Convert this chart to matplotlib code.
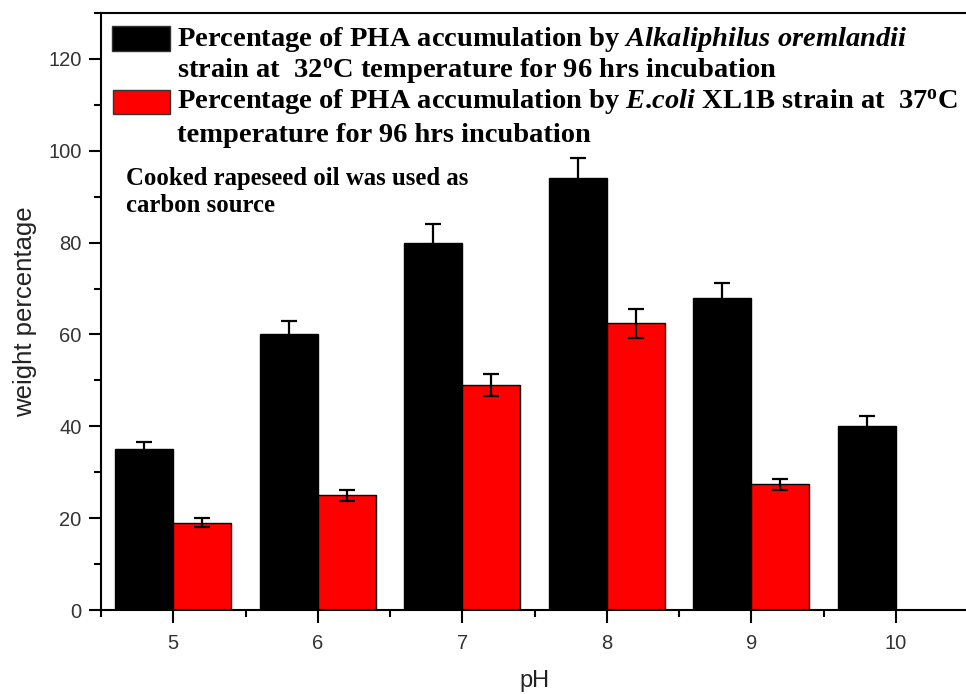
import numpy as np
import matplotlib
matplotlib.use("Agg")
import matplotlib.pyplot as plt
from matplotlib.patches import Rectangle
from matplotlib.ticker import MultipleLocator

# data
ph = [5, 6, 7, 8, 9, 10]
alkali = [35, 60, 80, 94, 68, 40]
alkali_err = [1.6, 3.0, 4.0, 4.5, 3.3, 2.2]
ecoli = [19, 25, 49, 62.4, 27.4, np.nan]
ecoli_err = [1.0, 1.2, 2.4, 3.2, 1.2, np.nan]

legend_lines = [
    r"Percentage of PHA accumulation by $\mathit{Alkaliphilus\ oremlandii}$",
    r"strain at  32$^{\mathrm{o}}$C temperature for 96 hrs incubation",
    r"Percentage of PHA accumulation by $\mathit{E}$.$\mathit{coli}$ XL1B strain at  37$^{\mathrm{o}}$C",
    "temperature for 96 hrs incubation",
]
note_lines = ["Cooked rapeseed oil was used as", "carbon source"]

plt.rcParams['mathtext.fontset'] = 'custom'
plt.rcParams['mathtext.rm'] = 'Liberation Serif:bold'
plt.rcParams['mathtext.it'] = 'Liberation Serif:bold:italic'
plt.rcParams['mathtext.bf'] = 'Liberation Serif:bold'

fig = plt.figure(figsize=(9.66, 6.94), dpi=100)
ax = fig.add_axes([101 / 966, 1 - 610 / 694, 867 / 966, 597 / 694])

x = np.array(ph, dtype=float)
w = 0.4
ax.bar(x - w / 2, alkali, width=w, color='black', edgecolor='black', linewidth=1, zorder=2)
ax.bar(x + w / 2, ecoli, width=w, color='#ff0000', edgecolor='black', linewidth=1, zorder=2)
ax.errorbar(x - w / 2, alkali, yerr=alkali_err, fmt='none', ecolor='black',
            elinewidth=1.6, capsize=6, capthick=1.6, zorder=3)
ax.errorbar(x + w / 2, ecoli, yerr=ecoli_err, fmt='none', ecolor='black',
            elinewidth=1.6, capsize=6, capthick=1.6, zorder=3)

ax.set_xlim(4.5, 10.5)
ax.set_ylim(0, 130)
ax.set_xticks(ph)
ax.set_xticklabels([str(p) for p in ph])
ax.xaxis.set_minor_locator(MultipleLocator(1, offset=0.5))
ax.yaxis.set_minor_locator(MultipleLocator(10))
ax.set_yticks(range(0, 121, 20))

for s in ['left', 'bottom', 'top', 'right']:
    ax.spines[s].set_linewidth(1.5)

ax.tick_params(which='major', direction='out', length=9, width=1.5,
               labelsize=14.5, labelcolor='#333333')
ax.tick_params(which='minor', direction='out', length=5, width=1.5)
ax.tick_params(axis='x', which='major', pad=8)
ax.tick_params(axis='y', which='major', pad=5)
for lab in ax.get_xticklabels() + ax.get_yticklabels():
    lab.set_fontfamily('Liberation Sans')

ax.set_ylabel('weight percentage', fontsize=18.5, family='Liberation Sans', color='#222222')
ax.yaxis.label.set_va('center')
ax.yaxis.set_label_coords((25 - 101) / 867, 0.5)
ax.set_xlabel('pH', fontsize=17, family='Liberation Sans', color='#222222', va='bottom')
ax.xaxis.set_label_coords(0.5, (610 - 692) / 597)

# legend drawn by hand so the boxes sit next to the first line of each entry
def ax_x(px):
    return (px - 101) / 867

def ax_y(px):
    return (610 - px) / 597

ax.add_patch(Rectangle((ax_x(112), ax_y(51)), 58 / 867, 25 / 597, transform=ax.transAxes,
                       facecolor='black', edgecolor='#333333', linewidth=1, clip_on=False))
ax.add_patch(Rectangle((ax_x(113), ax_y(114)), 57 / 867, 24 / 597, transform=ax.transAxes,
                       facecolor='#ff0000', edgecolor='#333333', linewidth=1, clip_on=False))

for line, base in zip(legend_lines, [46, 78, 109, 142]):
    ax.text(ax_x(177), ax_y(base), line, transform=ax.transAxes, fontsize=20.5,
            family='Liberation Serif', fontweight='bold', va='baseline', ha='left')

for line, base in zip(note_lines, [185, 212]):
    ax.text(ax_x(126), ax_y(base), line, transform=ax.transAxes, fontsize=17.8,
            family='Liberation Serif', fontweight='bold', va='baseline', ha='left')

fig.savefig('out.png', dpi=100)
